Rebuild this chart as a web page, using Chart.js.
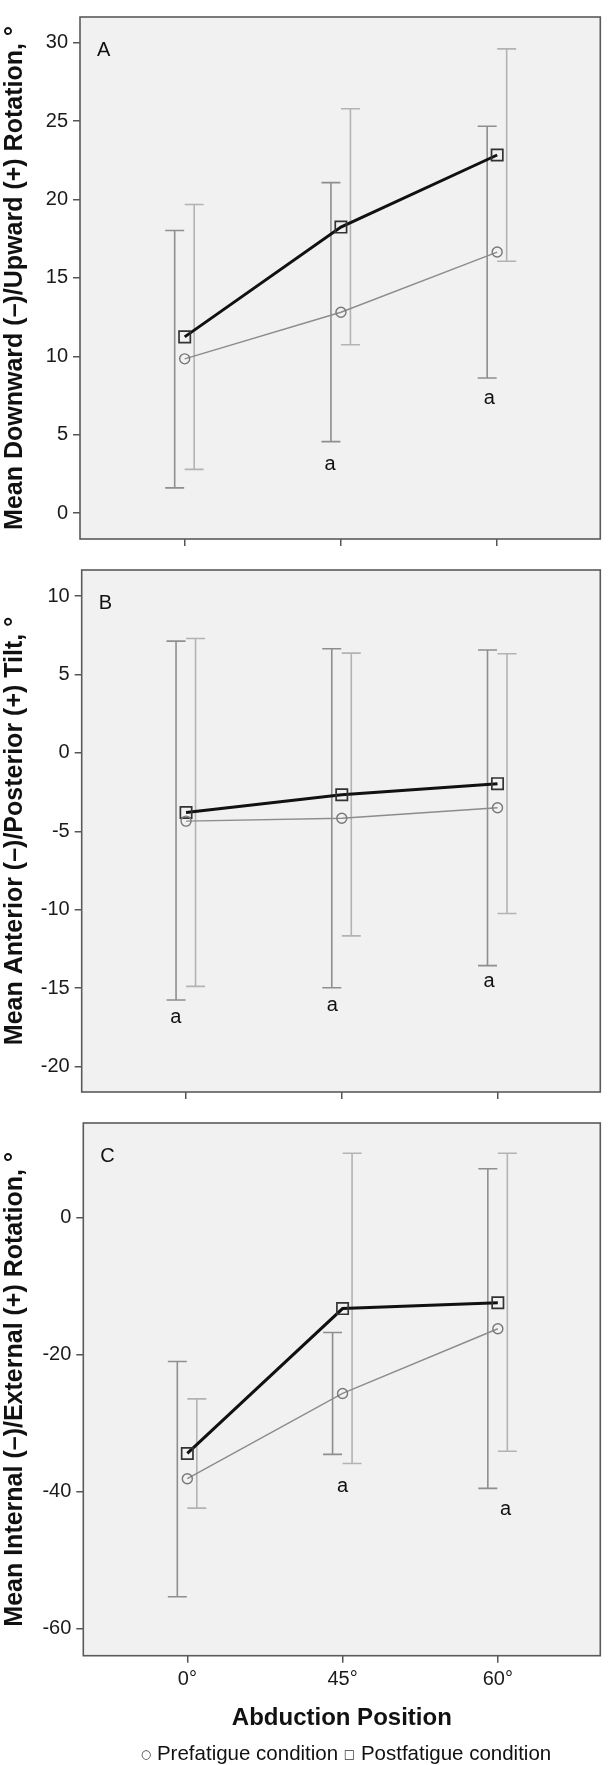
<!DOCTYPE html>
<html>
<head>
<meta charset="utf-8">
<script src="https://cdn.jsdelivr.net/npm/chart.js@4.4.0/dist/chart.umd.min.js"></script>
<style>
html,body{margin:0;padding:0;background:#fff;}
body{position:relative;width:610px;height:1765px;overflow:hidden;font-family:'Liberation Sans',Arial,Helvetica,sans-serif;}
canvas{position:absolute;left:0;}
#legend{position:absolute;top:1741px;left:346px;transform:translateX(-50%);white-space:nowrap;font-size:20.5px;line-height:24px;color:#111;}
#legend .sym{font-family:'DejaVu Sans',sans-serif;font-size:12px;position:relative;top:-2px;color:#333;}
</style>
</head>
<body>
<canvas id="cA" width="610" height="556" style="top:0px"></canvas>
<canvas id="cB" width="610" height="556" style="top:553px"></canvas>
<canvas id="cC" width="610" height="659" style="top:1106px"></canvas>
<div id="legend"><span class="sym">○</span> Prefatigue condition <span class="sym">□</span> Postfatigue condition</div>
<script>
const FONT = "'Liberation Sans', Arial, Helvetica, sans-serif";
const positions = ['0°', '45°', '60°'];
const xTitle = 'Abduction Position';

// Panel A: downward/upward rotation
const udTitle = 'Mean Downward (–)/Upward (+) Rotation, °';
const udTicks = [0, 5, 10, 15, 20, 25, 30];
const udRange = [-1.65, 31.64];
const udPreMean = [9.84, 12.81, 16.65];
const udPreLow = [1.61, 4.56, 8.62];
const udPreHigh = [18.02, 21.08, 24.67];
const udPostMean = [11.24, 18.24, 22.84];
const udPostLow = [2.79, 10.74, 16.06];
const udPostHigh = [19.68, 25.79, 29.61];
const udSigX = [0.93, 1.95];
const udSigY = [3.1, 7.33];

// Panel B: anterior/posterior tilt
const tiltTitle = 'Mean Anterior (–)/Posterior (+) Tilt, °';
const tiltTicks = [-20, -15, -10, -5, 0, 5, 10];
const tiltRange = [-21.63, 11.67];
const tiltPreMean = [-4.35, -4.17, -3.50];
const tiltPreLow = [-15.76, -14.98, -13.57];
const tiltPreHigh = [7.13, 6.65, 6.57];
const tiltPostMean = [-3.80, -2.67, -1.96];
const tiltPostLow = [-14.89, -11.67, -10.24];
const tiltPostHigh = [7.30, 6.37, 6.33];
const tiltSigX = [-0.065, 0.94, 1.945];
const tiltSigY = [-16.9, -16.1, -14.6];

// Panel C: internal/external rotation
const ieTitle = 'Mean Internal (–)/External (+) Rotation, °';
const ieTicks = [-60, -40, -20, 0];
const ieRange = [-63.9, 13.77];
const iePreMean = [-38.09, -25.66, -16.23];
const iePreLow = [-55.3, -34.54, -39.5];
const iePreHigh = [-21.0, -16.78, 7.10];
const iePostMean = [-34.41, -13.29, -12.43];
const iePostLow = [-42.38, -35.88, -34.1];
const iePostHigh = [-26.45, 9.37, 9.37];
const ieSigX = [1.0, 2.05];
const ieSigY = [-39.2, -42.6];

const xRange = [-0.67, 2.66];

Chart.defaults.font.family = FONT;

function makePanel(p) {
  const deco = {
    id: 'deco' + p.letter,
    beforeDraw(chart) {
      const {ctx, chartArea: a} = chart;
      ctx.save();
      ctx.fillStyle = '#f1f1f1';
      ctx.fillRect(a.left, a.top, a.right - a.left, a.bottom - a.top);
      ctx.restore();
    },
    beforeDatasetsDraw(chart) {
      const {ctx, scales: {x, y}} = chart;
      const styles = [
        {color: '#8e8e8e', width: 1.6, dx: -10, cap: 9.5},
        {color: '#b3b3b3', width: 1.6, dx: 9.5, cap: 9.5}
      ];
      chart.data.datasets.forEach((ds, i) => {
        const st = styles[i];
        ctx.save();
        ctx.strokeStyle = st.color;
        ctx.lineWidth = st.width;
        ds.errLow.forEach((lo, j) => {
          const px = x.getPixelForValue(ds.data[j].x) + st.dx;
          const pLo = y.getPixelForValue(lo);
          const pHi = y.getPixelForValue(ds.errHigh[j]);
          ctx.beginPath();
          ctx.moveTo(px, pLo); ctx.lineTo(px, pHi);
          ctx.moveTo(px - st.cap, pLo); ctx.lineTo(px + st.cap, pLo);
          ctx.moveTo(px - st.cap, pHi); ctx.lineTo(px + st.cap, pHi);
          ctx.stroke();
        });
        ctx.restore();
      });
    },
    afterDraw(chart) {
      const {ctx, chartArea: a, scales: {x, y}} = chart;
      ctx.save();
      ctx.strokeStyle = '#5a5a5a';
      ctx.lineWidth = 1.6;
      ctx.strokeRect(a.left, a.top, a.right - a.left, a.bottom - a.top);
      ctx.fillStyle = '#111';
      ctx.font = '20px ' + FONT;
      ctx.textBaseline = 'middle';
      ctx.textAlign = 'left';
      ctx.fillText(p.letter, a.left + 17, a.top + 33);
      ctx.textAlign = 'center';
      p.sigX.forEach((sx, k) => {
        ctx.fillText('a', x.getPixelForValue(sx), y.getPixelForValue(p.sigY[k]));
      });
      ctx.restore();
    }
  };
  const grid = {drawOnChartArea: false, drawTicks: true, tickLength: 7, color: '#555', lineWidth: 1.5};
  return new Chart(document.getElementById(p.id), {
    type: 'line',
    data: {
      datasets: [
        {
          label: 'Prefatigue condition',
          data: p.pre.map((v, i) => ({x: i, y: v})),
          errLow: p.preLow, errHigh: p.preHigh,
          borderColor: '#8c8c8c', borderWidth: 1.4,
          pointStyle: 'circle', pointRadius: 5, pointHoverRadius: 5,
          pointBorderColor: '#777', pointBorderWidth: 1.4,
          pointBackgroundColor: 'rgba(0,0,0,0)', tension: 0
        },
        {
          label: 'Postfatigue condition',
          data: p.post.map((v, i) => ({x: i, y: v})),
          errLow: p.postLow, errHigh: p.postHigh,
          borderColor: '#111', borderWidth: 3,
          pointStyle: 'rect', pointRadius: 8, pointHoverRadius: 8,
          pointBorderColor: '#333', pointBorderWidth: 1.7,
          pointBackgroundColor: 'rgba(0,0,0,0)', tension: 0
        }
      ]
    },
    options: {
      responsive: false, animation: false, devicePixelRatio: 1, events: [],
      layout: {padding: {top: p.padTop, right: p.padRight, left: 0, bottom: 0}},
      plugins: {legend: {display: false}, tooltip: {enabled: false}},
      scales: {
        x: {
          type: 'linear', min: xRange[0], max: xRange[1],
          afterBuildTicks: s => { s.ticks = positions.map((lbl, i) => ({value: i})); },
          afterFit: s => { s.height = p.xH; },
          ticks: {display: p.showX, font: {size: 20}, color: '#1a1a1a', padding: 5, maxRotation: 0,
                  callback: v => positions[v]},
          grid: grid,
          border: {display: false},
          title: {display: p.showX, text: xTitle, color: '#111',
                  font: {size: 24, weight: 'bold'}, padding: {top: 0, bottom: 32.6}}
        },
        y: {
          type: 'linear', min: p.range[0], max: p.range[1],
          afterBuildTicks: s => { s.ticks = p.ticks.map(v => ({value: v})); },
          afterFit: s => { s.width = p.frameLeft; },
          ticks: {font: {size: 20}, color: '#1a1a1a', padding: 5, callback: v => String(v)},
          grid: grid,
          border: {display: false},
          title: {display: true, text: p.title, color: '#111',
                  font: {size: 25, weight: 'bold'}, padding: {top: 0, bottom: 0}}
        }
      }
    },
    plugins: [deco]
  });
}

makePanel({id: 'cA', letter: 'A', title: udTitle, ticks: udTicks, range: udRange,
  pre: udPreMean, preLow: udPreLow, preHigh: udPreHigh,
  post: udPostMean, postLow: udPostLow, postHigh: udPostHigh,
  sigX: udSigX, sigY: udSigY,
  padTop: 2.5, padRight: 4, frameLeft: 80, xH: 8.3, showX: false});

makePanel({id: 'cB', letter: 'B', title: tiltTitle, ticks: tiltTicks, range: tiltRange,
  pre: tiltPreMean, preLow: tiltPreLow, preHigh: tiltPreHigh,
  post: tiltPostMean, postLow: tiltPostLow, postHigh: tiltPostHigh,
  sigX: tiltSigX, sigY: tiltSigY,
  padTop: 3, padRight: 5, frameLeft: 81.7, xH: 7.3, showX: false});

makePanel({id: 'cC', letter: 'C', title: ieTitle, ticks: ieTicks, range: ieRange,
  pre: iePreMean, preLow: iePreLow, preHigh: iePreHigh,
  post: iePostMean, postLow: iePostLow, postHigh: iePostHigh,
  sigX: ieSigX, sigY: ieSigY,
  padTop: 3.3, padRight: 5.7, frameLeft: 83.3, xH: 109.3, showX: true});
</script>
</body>
</html>
